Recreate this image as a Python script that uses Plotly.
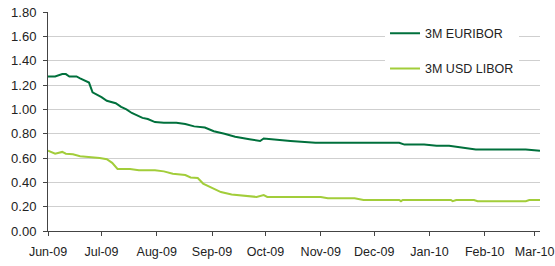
import plotly.graph_objects as go

eur_dates = ["2009-06-01","2009-06-05","2009-06-09","2009-06-11","2009-06-13","2009-06-17","2009-06-19",
             "2009-06-23","2009-06-24","2009-06-26","2009-06-29","2009-07-01","2009-07-04","2009-07-07",
             "2009-07-09","2009-07-12","2009-07-15","2009-07-18","2009-07-21","2009-07-24","2009-07-27",
             "2009-07-31","2009-08-05","2009-08-12","2009-08-17","2009-08-22","2009-08-28","2009-09-02",
             "2009-09-08","2009-09-14","2009-09-22","2009-09-28","2009-09-30","2009-10-06","2009-10-15",
             "2009-10-29","2009-12-15","2009-12-18","2009-12-29","2010-01-05","2010-01-12","2010-01-20",
             "2010-01-27","2010-02-24","2010-03-04"]
eur_vals = [1.27,1.27,1.29,1.29,1.27,1.27,1.255,
            1.23,1.22,1.14,1.12,1.10,1.07,1.06,
            1.05,1.02,1.00,0.97,0.95,0.93,0.92,
            0.895,0.89,0.89,0.88,0.86,0.85,0.82,
            0.80,0.775,0.755,0.74,0.76,0.75,0.74,
            0.725,0.725,0.71,0.71,0.70,0.70,0.685,
            0.67,0.67,0.66]

usd_dates = ["2009-06-01","2009-06-03","2009-06-05","2009-06-09","2009-06-11","2009-06-15","2009-06-19",
             "2009-06-30","2009-07-04","2009-07-07","2009-07-10","2009-07-17","2009-07-22","2009-07-31",
             "2009-08-05","2009-08-10","2009-08-17","2009-08-20","2009-08-24","2009-08-27","2009-08-31",
             "2009-09-06","2009-09-12","2009-09-20","2009-09-26","2009-09-30","2009-10-02","2009-11-01",
             "2009-11-05","2009-11-20","2009-11-25","2009-12-15","2009-12-16","2009-12-17","2010-01-13",
             "2010-01-14","2010-01-16","2010-01-26","2010-01-28","2010-02-24","2010-02-26","2010-03-04"]
usd_vals = [0.66,0.65,0.635,0.65,0.635,0.63,0.615,
            0.60,0.59,0.56,0.51,0.51,0.50,0.50,
            0.49,0.47,0.46,0.44,0.435,0.39,0.36,
            0.32,0.30,0.29,0.28,0.295,0.28,0.28,
            0.27,0.27,0.255,0.255,0.245,0.255,0.255,
            0.245,0.255,0.255,0.245,0.245,0.255,0.255]

tick_dates = ["2009-06-01","2009-07-01","2009-08-01","2009-09-01","2009-10-01","2009-11-01",
              "2009-12-01","2010-01-01","2010-02-01","2010-03-01"]
tick_labels = ["Jun-09","Jul-09","Aug-09","Sep-09","Oct-09","Nov-09","Dec-09","Jan-10","Feb-10","Mar-10"]

fig = go.Figure()
fig.add_trace(go.Scatter(x=eur_dates, y=eur_vals, mode="lines", name="3M EURIBOR",
                         line=dict(color="#00703c", width=2), legendgroup="a"))
fig.add_trace(go.Scatter(x=usd_dates, y=usd_vals, mode="lines", name="3M USD LIBOR",
                         line=dict(color="#a2cd3a", width=2), legendgroup="b"))

fig.update_layout(
    width=555, height=266,
    margin=dict(l=48, r=15, t=12, b=35),
    paper_bgcolor="white", plot_bgcolor="white",
    font=dict(family="Liberation Sans, Arial, sans-serif", size=13, color="#222"),
    showlegend=True,
    legend=dict(x=0.685, y=0.97, xanchor="left", yanchor="top", bgcolor="white",
                tracegroupgap=16, font=dict(size=12.5), borderwidth=0,
                itemwidth=30),
    xaxis=dict(range=["2009-06-01","2010-03-04"], tickvals=tick_dates, ticktext=tick_labels,
               showgrid=False, showline=True, linecolor="#444", linewidth=1,
               ticks="outside", ticklen=4, tickcolor="#444", zeroline=False,
               automargin=False, ticklabelstandoff=5, tickfont=dict(size=12.5)),
    yaxis=dict(range=[0,1.8], dtick=0.2, tickformat=".2f", showgrid=True, gridcolor="#cfcfcf",
               showline=True, linecolor="#444", linewidth=1, ticks="outside", ticklen=4,
               tickcolor="#444", zeroline=False, automargin=False, ticklabelstandoff=4),
)
fig.write_html("out.html", config={"displayModeBar": False},
               post_script="document.body.style.margin='0';document.body.style.overflow='hidden';")
